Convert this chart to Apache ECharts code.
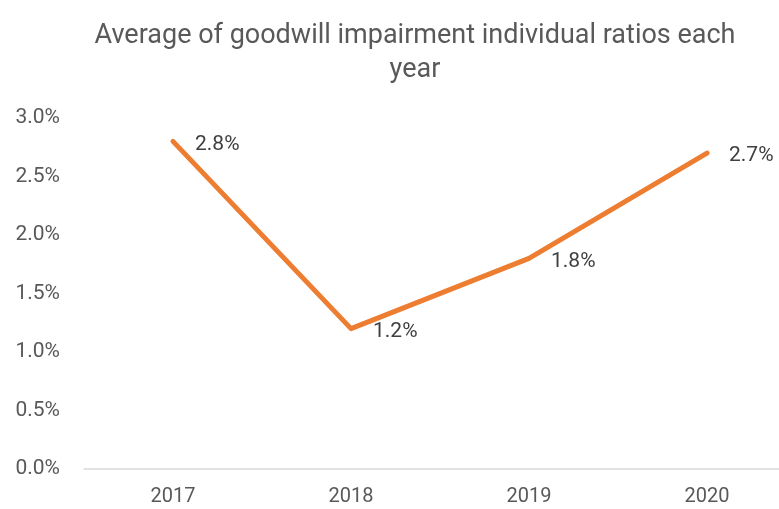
<!DOCTYPE html>
<html>
<head>
<meta charset="utf-8">
<script src="https://cdn.jsdelivr.net/npm/echarts@6/dist/echarts.min.js"></script>
<style>
  html, body { margin: 0; padding: 0; background: #ffffff; }
  #chart { width: 779px; height: 509px; }
</style>
</head>
<body>
<div id="chart"></div>
<script>
// Years on the category axis
const years = ['2017', '2018', '2019', '2020'];
// Average goodwill impairment ratio per year, in percent
const ratios = [2.8, 1.2, 1.8, 2.7];
// Y axis range and step, in percent
const yMin = 0;
const yMax = 3.0;
const yStep = 0.5;

const chart = echarts.init(document.getElementById('chart'));
const textFont = '"Roboto", sans-serif';

chart.setOption({
  backgroundColor: '#ffffff',
  animation: false,
  title: {
    text: 'Average of goodwill impairment individual ratios each\nyear',
    left: 410,
    textAlign: 'center',
    top: 14,
    textStyle: {
      fontFamily: textFont,
      fontSize: 27,
      fontWeight: 'normal',
      color: '#595959',
      lineHeight: 34
    }
  },
  // plot area runs slightly past the right edge of the canvas
  grid: { left: 84, top: 118, width: 712, height: 351, outerBoundsMode: 'none', containLabel: false },
  xAxis: {
    type: 'category',
    data: years,
    boundaryGap: true,
    axisLine: { show: true, lineStyle: { color: '#d9d9d9', width: 1.5 } },
    axisTick: { show: false },
    axisLabel: {
      fontFamily: textFont,
      fontSize: 20,
      color: '#595959',
      margin: 18
    }
  },
  yAxis: {
    type: 'value',
    min: yMin,
    max: yMax,
    interval: yStep,
    axisLine: { show: false },
    axisTick: { show: false },
    splitLine: { show: false },
    axisLabel: {
      fontFamily: textFont,
      fontSize: 21,
      color: '#595959',
      margin: 24,
      formatter: v => v.toFixed(1) + '%'
    }
  },
  series: [{
    type: 'line',
    data: ratios,
    symbol: 'circle',
    symbolSize: 0,
    showSymbol: true,
    lineStyle: { color: '#ED7D31', width: 5, cap: 'round', join: 'round' },
    itemStyle: { color: '#ED7D31' },
    label: {
      show: true,
      position: 'right',
      distance: 22,
      offset: [0, 3],
      fontFamily: textFont,
      fontSize: 21,
      color: '#404040',
      formatter: p => p.value.toFixed(1) + '%'
    }
  }]
});
</script>
</body>
</html>
